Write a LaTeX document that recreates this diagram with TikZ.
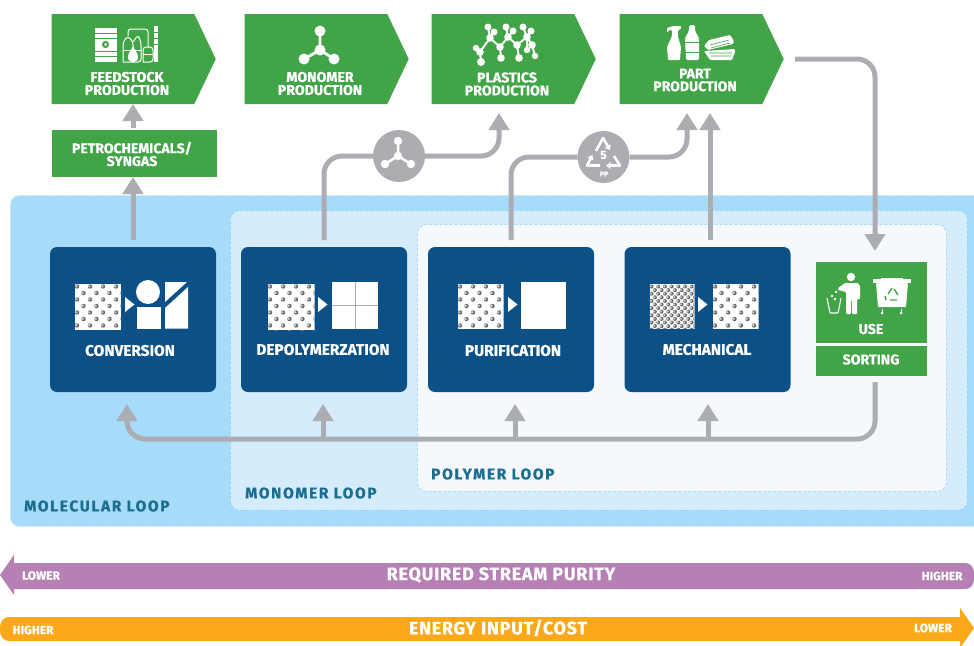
\documentclass[tikz,border=0pt]{standalone}
\usepackage{fontspec}
\setmainfont[BoldFeatures={FakeBold=0.5}]{Fira Sans}
\usetikzlibrary{arrows.meta,shapes.symbols,calc}
\definecolor{mol}{HTML}{A6DCFA}
\definecolor{molb}{HTML}{CDEBFC}
\definecolor{mon}{HTML}{D5ECFD}
\definecolor{monb}{HTML}{8FD5F6}
\definecolor{pol}{HTML}{F5F9FE}
\definecolor{polb}{HTML}{A6DCFA}
\definecolor{navy}{HTML}{0B5187}
\definecolor{grn}{HTML}{41A548}
\definecolor{gry}{HTML}{ABADB2}
\definecolor{teal2}{HTML}{1B6E8F}
\definecolor{purp}{HTML}{B680B5}
\definecolor{orng}{HTML}{FBA91B}
\tikzset{
 lbl/.style={font=\bfseries\fontsize{14.2}{13}\selectfont,text=white,align=center,inner sep=0pt},
 lblp/.style={font=\bfseries\fontsize{14}{12.8}\selectfont,text=white,align=center,inner sep=0pt},
 lblb/.style={font=\bfseries\fontsize{15.4}{13}\selectfont,text=white,align=center,inner sep=0pt},
 looplbl/.style={font=\bfseries\addfontfeatures{LetterSpace=10.5}\fontsize{15.5}{15}\selectfont,text=teal2,anchor=west,inner sep=0pt},
 barbig/.style={font=\bfseries\addfontfeatures{LetterSpace=4}\fontsize{18}{18}\selectfont,text=white,inner sep=0pt},
 barsm/.style={font=\bfseries\fontsize{12}{12}\selectfont,text=white,inner sep=0pt},
 sig/.style={signal,signal to=east,signal pointer angle=129,fill=grn,minimum width=164pt,minimum height=90pt,inner sep=0pt,outer sep=0pt},
 gbox/.style={fill=grn,inner sep=0pt,outer sep=0pt},
 proc/.style={fill=navy,rounded corners=7pt,minimum width=166pt,minimum height=145pt,inner sep=0pt,outer sep=0pt},
 loopbox/.style={rounded corners=9pt,densely dashed,line width=.9pt,inner sep=0pt},
 conn/.style={draw=gry,line width=5pt,rounded corners=18pt},
 connarrow/.style={conn,-{Triangle[width=20pt,length=17pt]}},
 hubc/.style={circle,fill=gry,minimum size=52pt,inner sep=0pt,outer sep=0pt},
 wht/.style={white,line width=2pt},
}
\newcommand{\texsq}[6]{% x y w dx dy dot radius
 \begin{scope}
 \clip (#1,#2) rectangle ++(#3,#3);
 \fill[white] (#1,#2) rectangle ++(#3,#3);
 \foreach \ii in {0,...,14}{\foreach \jj in {0,...,8}{
  \pgfmathsetmacro{\tcx}{#1+2+\jj*#4+mod(\ii,2)*#4/2}
  \pgfmathsetmacro{\tcy}{#2+3+\ii*#5}
  \fill[black!60] (\tcx,\tcy) circle (#6);
  \fill[white!80!black] (\tcx-.35*#6,\tcy-.1*#6) circle (.62*#6);
 }}
 \end{scope}}
\newcommand{\smalltri}[2]{\fill[white] (#1,#2) -- ++(9.5,7.5) -- ++(-9.5,7.5) -- cycle;}
\begin{document}
\begin{tikzpicture}[x=1pt,y=-1pt]
\clip (0,0) rectangle (974,645);
\fill[white] (0,0) rectangle (974,645);
% loop regions
\node[loopbox,fill=mol,draw=molb,minimum width=1000pt,minimum height=331pt,anchor=north west] (molecular) at (10,195) {};
\node[loopbox,fill=mon,draw=monb,minimum width=737pt,minimum height=300pt,anchor=north west] (monomer) at (230,210) {};
\node[loopbox,fill=pol,draw=polb,minimum width=529pt,minimum height=267pt,anchor=north west] (polymer) at (417,224) {};
\node[looplbl] (lmol) at (24,506) {MOLECULAR LOOP};
\node[looplbl] (lmon) at (245,493) {MONOMER LOOP};
\node[looplbl] (lpol) at (431,474) {POLYMER LOOP};
% top boxes
\node[sig] (feed) at (123,59) {};
\node[sig] (mono) at (316,59) {};
\node[sig] (plast) at (503,59) {};
\node[sig] (part) at (691,59) {};
\node[lbl] (tfeed) at (127,83.5) {FEEDSTOCK\\PRODUCTION};
\node[lbl] (tmono) at (320,83.5) {MONOMER\\PRODUCTION};
\node[lbl] (tplast) at (507,84) {PLASTICS\\PRODUCTION};
\node[lblp] (tpart) at (695,80) {PART\\PRODUCTION};
\node[gbox,minimum width=165pt,minimum height=47pt] (petro) at (134.5,153.5) {};
\node[lblp] (tpetro) at (132,154) {PETROCHEMICALS/\\SYNGAS};
% process boxes
\node[proc] (conv) at (133,319.5) {};
\node[proc] (depol) at (324,319.5) {};
\node[proc] (purif) at (511,319.5) {};
\node[proc] (mech) at (707.5,319.5) {};
\node[lblb] (tconv) at (130,350.5) {CONVERSION};
\node[lblb] (tdepol) at (323,349.5) {DEPOLYMERZATION};
\node[lblb] (tpurif) at (513,350.5) {PURIFICATION};
\node[lblb] (tmech) at (707,349.5) {MECHANICAL};
\node[gbox,minimum width=111pt,minimum height=81pt] (use) at (871.5,302.5) {};
\node[gbox,minimum width=111pt,minimum height=30pt] (sort) at (871.5,361) {};
\node[lbl] (tuse) at (871,329) {USE};
\node[lbl] (tsort) at (871,359.5) {SORTING};
% hub circles
\node[hubc] (hubmol) at (399,156) {};
\node[hubc] (hubpp) at (603.5,157) {};
% connector coordinates
\coordinate (plastIn) at (499,113);
\coordinate (partIn) at (687,113);
\coordinate (mechOut) at (710,240);
\coordinate (partInB) at (710,113);
\coordinate (partOut) at (795,59);
\coordinate (useIn) at (875,251);
\coordinate (sortOut) at (875,382);
\coordinate (retMid) at (500,439);
\coordinate (convIn) at (127,404);
\coordinate (depIn) at (323,404);
\coordinate (purIn) at (515,404);
\coordinate (mecIn) at (708,404);
% connectors
\draw[connarrow,rounded corners=0pt,shorten <=7pt] (conv.north) -- (conv.north |- petro.south);
\draw[connarrow,rounded corners=0pt,shorten <=2pt] (conv.north |- petro.north) -- (conv.north |- feed.south);
\draw[conn,shorten <=7pt] (depol.north) |- (hubmol.west);
\draw[connarrow] (hubmol.east) -| (plastIn);
\draw[conn,shorten <=7pt] (purif.north) |- (hubpp.west);
\draw[connarrow] (hubpp.east) -| (partIn);
\draw[connarrow,rounded corners=0pt] (mechOut) -- (partInB);
\draw[connarrow] (partOut) -| (useIn);
\draw[connarrow] (sortOut) |- (retMid) -| (convIn);
\draw[connarrow,rounded corners=0pt] (depIn |- retMid) -- (depIn);
\draw[connarrow,rounded corners=0pt] (purIn |- retMid) -- (purIn);
\draw[connarrow,rounded corners=0pt] (mecIn |- retMid) -- (mecIn);
% hub molecule
\draw[wht,line width=2.5pt] (398,156)--(398,142) (398,156)--(385,164) (398,156)--(411,164);
\foreach \a/\b in {398/156,398/141,385/164,411/164}{\fill[white] (\a,\b) circle (4.2);}
% hub recycle
\begin{scope}[white,line width=2.6pt,line join=round]
\draw[-{Triangle[width=6.5pt,length=4.5pt]}] (596,151) -- (603,138) -- (610,150);
\draw[-{Triangle[width=6.5pt,length=4.5pt]}] (614,156) -- (620,165.5) -- (606,165.5);
\draw[-{Triangle[width=6.5pt,length=4.5pt]}] (600,165.5) -- (587,165.5) -- (592.5,155);
\end{scope}
\node[font=\bfseries\fontsize{12}{12}\selectfont,text=white,inner sep=0pt] (hubfive) at (603.5,155) {5};
\node[font=\bfseries\fontsize{7}{7}\selectfont,text=white,inner sep=0pt] (hubpptxt) at (604,174) {PP};
% monomer molecule
\draw[white,line width=2.8pt] (320,50)--(320,31) (320,50)--(304,59) (320,50)--(334,59);
\foreach \a/\b/\r in {320/50/5.5,320/31/5.5,304/59/5.5,334/59/5.5}{\fill[white] (\a,\b) circle (\r);}
% plastics network
\begin{scope}[white,line width=2pt]
\draw (480,52)--(490,38)--(500,47)--(508,37)--(517,45)--(527,37)--(532,45);
\draw (490,38)--(488,27)  (490,38)--(494,32) (508,37)--(506,27) (508,37)--(513,31) (527,37)--(523,27) (527,37)--(531,31);
\draw (480,52)--(481,62) (500,47)--(501,58) (517,45)--(519,58) (532,45)--(535,56) (527,37)--(527,50) (480,52)--(476,48);
\foreach \a/\b/\r in {480/52/3.8,490/38/3.8,500/47/3.8,508/37/3.8,517/45/3.8,527/37/3.8,532/45/3.8,488/27/3.5,494/32/3.5,506/27/3.5,513/31/3.5,523/27/3.5,531/31/3.5,481/62/4,501/58/3.8,519/58/3.8,535/56/3.2,527/50/3.2,476/48/3.2}{\fill (\a,\b) circle (\r);}
\end{scope}
% part icons
\fill[white,rounded corners=1pt] (668,60) -- (667,47) -- (672,36) -- (672,30) -- (669,30) -- (667,33) -- (667,28) -- (673,26) -- (681,26) -- (681,29) -- (678,30) -- (678,37) -- (681,47) -- (680,60) -- cycle;
\fill[white,rounded corners=1.5pt] (686,60) -- (685,38) -- (689,31) -- (689,25) -- (695,25) -- (695,31) -- (699,38) -- (699,60) -- cycle;
\draw[grn,line width=.8pt] (685,42)--(699,42) (685,52)--(699,52);
\begin{scope}[white]
\fill[rounded corners=1pt] (704,46)--(709,40)--(730,35)--(734,41)--(733,44)--(708,50)--cycle;
\fill[rounded corners=1pt] (704,51)--(735,49)--(735,52)--(732,60)--(710,60)--(706,54)--cycle;
\draw[grn,line width=.6pt] (710,45)--(729,40) (711,48)--(730,43) (709,53)--(732,53) (711,56)--(731,56);
\end{scope}
% feedstock icons
\fill[white] (94.5,27.5) rectangle (116.5,62);
\draw[grn,line width=.8pt] (94,33)--(117,33) (94,38)--(117,38) (94,51)--(117,51) (94,56)--(117,56);
\fill[grn] (105.5,44.5) circle (3.6);
\fill[white] (105.5,44.5) circle (1.5);
\begin{scope}[white,line width=1pt,rounded corners=3pt]
\draw (123,62)--(123,42)--(128,36)--(133,42)--(133,48);
\draw (133,42)--(138,35)--(141,42)--(141,62)--(123,62);
\draw (128,36)--(128,29)--(148,29)--(148,47);
\draw (143,62)--(143,47)--(153,47)--(153,62)--(143,62);
\draw (123,50)--(141,50);
\draw (143,54)--(153,54);
\end{scope}
\fill[white] (133,46) .. controls (135,51) and (138,53) .. (138,57) .. controls (138,64) and (128,64) .. (128,57) .. controls (128,53) and (131,51) .. (133,46) -- cycle;
\fill[white] (154,26) rectangle (158,62);
\draw[grn,line width=.8pt] (154,32)--(158,32) (154,38)--(158,38) (154,44)--(158,44);
% process icons
\texsq{75}{283.5}{46}{13}{6.5}{2.2}
\smalltri{125}{297}
\fill[white] (148,292) circle (12);
\fill[white] (137,307) rectangle (161,329);
\fill[white] (165,282) -- (187,282) -- (165,302) -- cycle;
\fill[white] (188,287) -- (188,328.5) -- (165,328.5) -- (165,308) -- cycle;
\texsq{268}{283.5}{46.5}{13}{6.5}{2.2}
\smalltri{318}{297}
\fill[white] (332,282) rectangle (378,328.5);
\draw[gry,line width=.9pt] (355,282)--(355,328.5) (332,305)--(378,305);
\texsq{458}{283.5}{45.5}{13}{6.5}{2.2}
\smalltri{508}{297}
\fill[white] (521,282) rectangle (566,328.5);
\texsq{649.5}{283.5}{45}{6.7}{3.6}{2}
\smalltri{698}{297}
\texsq{713}{283.5}{45.5}{13}{6.5}{2.2}
% use icons
\fill[white] (851,277) circle (4.2);
\fill[white,rounded corners=1pt] (845,283) -- (858,283) -- (860,286) -- (860,299) -- (857,299) -- (857,314) -- (852,314) -- (852,300) -- (851,300) -- (851,314) -- (846,314) -- (846,292) -- (838,290) -- (838,288) -- cycle;
\draw[white,line width=1.1pt,rounded corners=1pt] (827,298) -- (830,313) -- (838,313) -- (841,298);
\fill[white] (832,296) circle (1.3) (836,292) circle (1.3) (835,299) circle (1.3);
\fill[white] (873,279) rectangle (911,283);
\fill[white] (881,278) rectangle (903,280);
\fill[white,rounded corners=1pt] (876,283) -- (908,283) -- (906,307) -- (878,307) -- cycle;
\begin{scope}[grn,line width=1.4pt,line join=round]
\draw (892,288) -- (888,294) (894,289) -- (898,295) (897,300) -- (890,300) (886,300) -- (885,296);
\end{scope}
\draw[white,line width=.9pt] (882,309) -- (882,313) (901,309) -- (901,313);
\fill[white] (882,313) circle (1.5) (901,313) circle (1.5);
% bars
\path[fill=purp] (0,575) -- (14,555) -- (14,563) -- (964,563) .. controls (972,563) and (974,567) .. (974,576) .. controls (974,585) and (972,589) .. (964,589) -- (14,589) -- (14,595) -- cycle;
\path[fill=orng] (974,628) -- (960,608) -- (960,617) -- (10,617) .. controls (3,617) and (0,621) .. (0,629) .. controls (0,637) and (3,641) .. (10,641) -- (960,641) -- (960,648) -- cycle;
\node[barbig] (purity) at (501,575) {REQUIRED STREAM PURITY};
\node[barbig] (energy) at (498,628) {ENERGY INPUT/COST};
\node[barsm] (l1) at (41,575.5) {LOWER};
\node[barsm] (h1) at (942,576) {HIGHER};
\node[barsm] (h2) at (33,630) {HIGHER};
\node[barsm] (l2) at (933,628) {LOWER};
\end{tikzpicture}
\end{document}
